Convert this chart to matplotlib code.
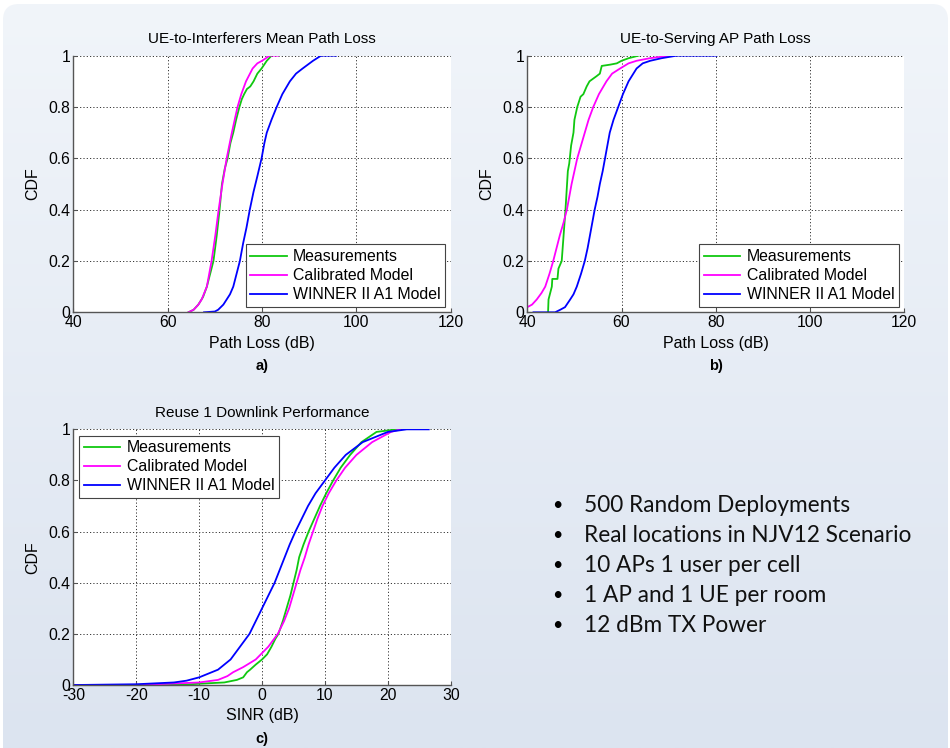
import numpy as np
import matplotlib.pyplot as plt
from matplotlib.colors import LinearSegmentedColormap
from matplotlib.patches import FancyBboxPatch

### Data (x value at each CDF level) ###
labels = ['Measurements', 'Calibrated Model', 'WINNER II A1 Model']
colors = ['#10c810', '#ff00ff', '#0000ff']

# a) UE-to-Interferers Mean Path Loss
a_meas_x = [64.4, 65.5, 66.5, 67.5, 68.3, 69.0, 69.7, 70.4, 71.0, 71.5, 72.1, 72.7, 73.3, 73.9, 74.5, 75.2,
            75.7, 76.2, 76.8, 77.5, 78.2, 79.0, 79.9, 81.0, 82.0]
a_meas_y = [0.0, 0.01, 0.03, 0.06, 0.1, 0.15, 0.2, 0.3, 0.4, 0.5, 0.56, 0.6, 0.66, 0.7, 0.75, 0.8,
            0.83, 0.85, 0.87, 0.88, 0.9, 0.93, 0.95, 0.98, 1.0]
a_cal_x = [64.4, 65.5, 66.5, 67.2, 68.3, 69.3, 70.1, 70.8, 71.6, 72.5, 73.6, 74.2, 74.8, 75.6, 76.6,
           78.0, 79.0, 80.0, 81.6, 83.4]
a_cal_y = [0.0, 0.01, 0.03, 0.05, 0.1, 0.2, 0.3, 0.4, 0.5, 0.6, 0.7, 0.75, 0.8, 0.85, 0.9,
           0.95, 0.97, 0.98, 1.0, 1.0]
a_win_x = [67.7, 70.0, 70.7, 71.8, 72.5, 73.2, 73.9, 74.6, 75.3, 76.0, 76.7, 77.4, 78.2, 79.0, 79.9,
           80.5, 81.0, 82.0, 83.1, 84.3, 85.9, 87.2, 88.6, 90.8, 92.5, 95.7]
a_win_y = [0.0, 0.003, 0.01, 0.03, 0.05, 0.07, 0.1, 0.15, 0.2, 0.27, 0.33, 0.4, 0.47, 0.53, 0.6,
           0.66, 0.7, 0.75, 0.8, 0.85, 0.9, 0.93, 0.95, 0.98, 1.0, 1.0]

# b) UE-to-Serving AP Path Loss
b_meas_x = [44.4, 44.5, 45.2, 45.3, 46.4, 46.6, 47.3, 48.1, 48.6, 48.9, 49.3, 49.8, 50.0, 50.6, 51.3,
            51.9, 52.6, 53.2, 54.7, 55.4, 55.8, 57.6, 59.0, 60.0, 61.5, 63.6]
b_meas_y = [0.0, 0.05, 0.1, 0.13, 0.13, 0.17, 0.2, 0.4, 0.55, 0.58, 0.65, 0.7, 0.75, 0.8, 0.84,
            0.85, 0.88, 0.9, 0.92, 0.93, 0.96, 0.965, 0.97, 0.98, 0.99, 1.0]
b_cal_x = [40.0, 41.0, 42.0, 43.0, 43.8, 44.7, 45.5, 46.2, 46.9, 47.7, 48.4, 48.9, 49.4, 50.0, 50.6,
           51.4, 52.2, 53.0, 54.0, 55.2, 56.8, 58.0, 59.7, 61.5, 63.2, 66.0, 70.3]
b_cal_y = [0.02, 0.03, 0.05, 0.075, 0.1, 0.15, 0.2, 0.25, 0.3, 0.35, 0.4, 0.45, 0.5, 0.55, 0.6,
           0.65, 0.7, 0.75, 0.8, 0.85, 0.9, 0.93, 0.95, 0.97, 0.98, 0.99, 1.0]
b_win_x = [41.3, 45.9, 47.0, 48.0, 49.1, 49.8, 50.5, 51.4, 52.2, 52.8, 53.3, 53.8, 54.3, 54.9, 55.4,
           56.0, 56.5, 57.0, 57.5, 58.3, 59.3, 60.3, 61.5, 63.2, 64.5, 66.1, 68.5, 71.7, 80.2]
b_win_y = [0.0, 0.0, 0.01, 0.02, 0.05, 0.07, 0.1, 0.15, 0.2, 0.25, 0.3, 0.35, 0.4, 0.45, 0.5,
           0.55, 0.6, 0.65, 0.7, 0.75, 0.8, 0.85, 0.9, 0.95, 0.97, 0.98, 0.99, 1.0, 1.0]

# c) Reuse 1 Downlink Performance
c_meas_x = [-30, -15, -12, -10, -6, -4, -3.0, -2.4, -1.9, -1.0, 0.0, 0.8, 1.5, 2.1, 2.6, 3.3, 3.9,
            4.5, 5.0, 5.5, 5.9, 6.6, 7.4, 8.3, 9.2, 10.2, 11.3, 12.5, 14.0, 15.8, 17.0, 18.2, 21.4]
c_meas_y = [0.0, 0.0, 0.002, 0.005, 0.01, 0.02, 0.03, 0.05, 0.06, 0.08, 0.1, 0.12, 0.15, 0.18, 0.2,
            0.25, 0.3, 0.35, 0.4, 0.45, 0.5, 0.55, 0.6, 0.65, 0.7, 0.75, 0.8, 0.85, 0.9, 0.95, 0.97,
            0.99, 1.0]
c_cal_x = [-30, -20, -15, -10, -7, -5.5, -4.6, -3.0, -2.0, -1.0, 0.0, 1.0, 2.5, 3.5, 4.3, 4.9, 5.5,
           6.1, 6.8, 7.4, 8.1, 8.8, 9.6, 10.6, 11.8, 13.2, 15.0, 17.5, 19.0, 20.5, 22.0]
c_cal_y = [0.0, 0.0, 0.005, 0.01, 0.02, 0.035, 0.05, 0.07, 0.085, 0.1, 0.125, 0.15, 0.2, 0.25, 0.3,
           0.35, 0.4, 0.45, 0.5, 0.55, 0.6, 0.65, 0.7, 0.75, 0.8, 0.85, 0.9, 0.95, 0.97, 0.99, 1.0]
c_win_x = [-30, -20, -14, -12, -10, -8.5, -7, -6, -5, -3.5, -2, -1, 0, 1, 2, 2.8, 3.6, 4.4, 5.3,
           6.3, 7.3, 8.5, 10, 11.5, 13.3, 16, 18, 20, 23, 26.5]
c_win_y = [0.0, 0.003, 0.01, 0.017, 0.03, 0.045, 0.06, 0.08, 0.1, 0.15, 0.2, 0.25, 0.3, 0.35, 0.4,
           0.45, 0.5, 0.55, 0.6, 0.65, 0.7, 0.75, 0.8, 0.85, 0.9, 0.95, 0.97, 0.99, 1.0, 1.0]

bullets = ['500 Random Deployments', 'Real locations in NJV12 Scenario',
           '10 APs 1 user per cell', '1 AP and 1 UE per room', '12 dBm TX Power']

plt.rcParams['font.family'] = ['Liberation Sans', 'DejaVu Sans']
plt.rcParams['axes.unicode_minus'] = False

fig = plt.figure(figsize=(9.5, 7.48), dpi=100)

### Slide background ###
bg = fig.add_axes([0, 0, 1, 1], zorder=-10)
bg.set_xlim(0, 950)
bg.set_ylim(748, 0)
bg.axis('off')
grad = np.linspace(0, 1, 256).reshape(-1, 1)
img = bg.imshow(grad, extent=[0, 950, 748, 0], aspect='auto',
                cmap=LinearSegmentedColormap.from_list('bg', ['#f1f5fa', '#dce4f0']))
panel = FancyBboxPatch((3, 4), 945, 760, boxstyle='round,pad=0,rounding_size=16',
                       transform=bg.transData, facecolor='none', edgecolor='none')
bg.add_patch(panel)
img.set_clip_path(panel)


def cdf_axes(rect, title, xlabel, sub, xlim, xticks):
    ax = fig.add_axes(rect)
    ax.set_facecolor('white')
    ax.set_xlim(xlim)
    ax.set_ylim(0, 1)
    ax.set_xticks(xticks)
    ax.set_yticks([0, 0.2, 0.4, 0.6, 0.8, 1])
    ax.set_yticklabels(['0', '0.2', '0.4', '0.6', '0.8', '1'])
    ax.grid(True, linestyle=(0, (1.2, 2.2)), color='#333333', linewidth=0.7)
    for s in ['top', 'right']:
        ax.spines[s].set_visible(False)
    for s in ['left', 'bottom']:
        ax.spines[s].set_color('#555555')
        ax.spines[s].set_linewidth(1.0)
    ax.tick_params(direction='in', length=3, labelsize=11.3, colors='#555555', labelcolor='black', pad=2)
    ax.set_title(title, fontsize=11, pad=9)
    ax.set_xlabel(xlabel, fontsize=11.5, labelpad=4)
    ax.set_ylabel('CDF', fontsize=11.5, labelpad=6)
    ax.text(0.5, -0.21, sub, transform=ax.transAxes, ha='center', va='center',
            fontsize=10.5, fontweight='bold')
    return ax


def draw(ax, series):
    for (x, y), c, lab in zip(series, colors, labels):
        ax.plot(x, y, color=c, linewidth=1.3, label=lab)


axA = cdf_axes([0.0772, 0.5825, 0.3973, 0.3431], 'UE-to-Interferers Mean Path Loss',
               'Path Loss (dB)', 'a)', (40, 120), [40, 60, 80, 100, 120])
draw(axA, [(a_meas_x, a_meas_y), (a_cal_x, a_cal_y), (a_win_x, a_win_y)])

axB = cdf_axes([0.5551, 0.5825, 0.3965, 0.3431], 'UE-to-Serving AP Path Loss',
               'Path Loss (dB)', 'b)', (40, 120), [40, 60, 80, 100, 120])
draw(axB, [(b_meas_x, b_meas_y), (b_cal_x, b_cal_y), (b_win_x, b_win_y)])

axC = cdf_axes([0.0772, 0.0842, 0.3973, 0.3418], 'Reuse 1 Downlink Performance',
               'SINR (dB)', 'c)', (-30, 30), [-30, -20, -10, 0, 10, 20, 30])
draw(axC, [(c_meas_x, c_meas_y), (c_cal_x, c_cal_y), (c_win_x, c_win_y)])

leg_kw = dict(fontsize=11.4, fancybox=False, framealpha=1, edgecolor='#444444',
              handlelength=2.3, handletextpad=0.4, labelspacing=0.25, borderpad=0.3,
              borderaxespad=0)
axA.legend(loc='lower right', bbox_to_anchor=(0.986, 0.021), **leg_kw).get_frame().set_linewidth(0.8)
axB.legend(loc='lower right', bbox_to_anchor=(0.987, 0.021), **leg_kw).get_frame().set_linewidth(0.8)
axC.legend(loc='upper left', bbox_to_anchor=(0.015, 0.975), **leg_kw).get_frame().set_linewidth(0.8)

### Bullet list ###
for i, t in enumerate(bullets):
    yy = 1 - (505 + 30 * i) / 748
    fig.text(557 / 950, yy, '\u2022', fontsize=13, ha='center', va='center', family='Lato')
    fig.text(584 / 950, yy, t, fontsize=16.3, ha='left', va='center', family='Lato', color='#111111')

fig.savefig('out.png', dpi=100)
